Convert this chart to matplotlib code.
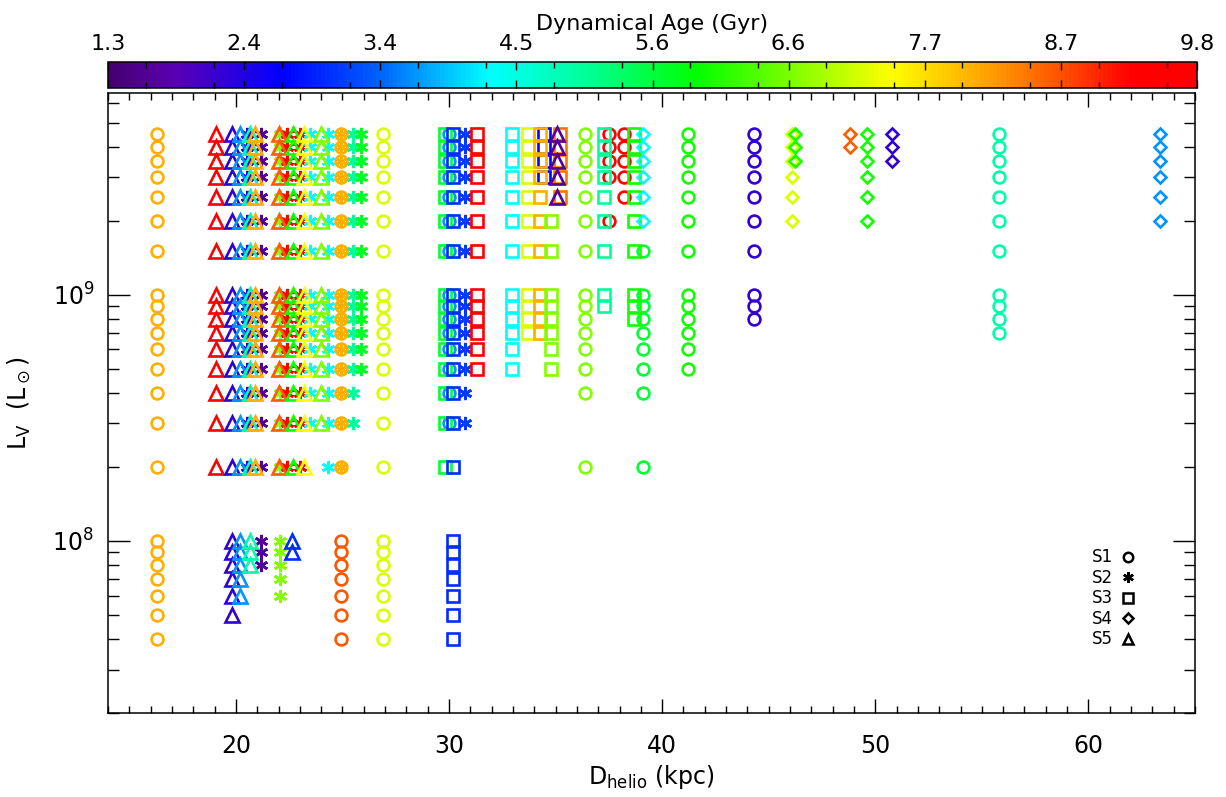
import numpy as np
import matplotlib
matplotlib.use('Agg')
import matplotlib.pyplot as plt
from matplotlib.colors import LinearSegmentedColormap, Normalize
from matplotlib.cm import ScalarMappable
from matplotlib.lines import Line2D
from matplotlib.ticker import MultipleLocator, LogLocator, NullFormatter

# luminosity rows (L_sun)
hi = [4.5e9, 4.0e9, 3.5e9, 3.0e9, 2.5e9, 2.0e9, 1.5e9]
mid = [1.0e9, 9e8, 8e8, 7e8, 6e8, 5e8, 4e8, 3e8, 2e8]
lo = [1e8, 9e7, 8e7, 7e7, 6e7, 5e7, 4e7]

# S1 - circles
s1_dist = [16.3, 24.95, 24.95, 26.9, 30.0, 36.4, 37.5, 38.2, 39.1, 41.2, 44.3, 55.8]
s1_age = [8.05, 8.05, 8.7, 7.2, 3.7, 6.66, 9.5, 9.5, 5.6, 6.0, 2.2, 4.9]
s1_lum = [hi + mid + lo, hi + mid, lo, hi + mid + lo, hi + mid[:8],
          hi + mid[:7] + [2e8], [4.5e9, 4e9, 3.5e9, 3e9, 2e9], hi[:5],
          [1.5e9] + mid[:7] + [2e8], hi + mid[:6], hi + mid[:3], hi + mid[:4]]

# S2 - asterisks
s2_dist = [20.5, 21.17, 22.07, 22.4, 23.0, 23.5, 24.3, 24.95, 25.5, 25.86, 30.76]
s2_age = [2.3, 1.6, 6.66, 9.5, 9.3, 4.3, 4.3, 8.05, 5.0, 5.7, 3.1]
s2_lum = [hi + mid, hi + mid + lo[:3], hi + mid + lo[:5], hi + mid, hi + mid,
          hi + mid[:8], hi + mid, hi + mid, hi + mid[:8], hi + mid[:6], hi + mid[:8]]

# S3 - squares
s3_dist = [29.8, 30.2, 31.3, 32.95, 33.7, 34.45, 34.25, 34.8, 35.2, 37.25, 38.7]
s3_age = [5.6, 3.0, 9.5, 4.3, 7.2, 2.6, 8.05, 6.66, 8.5, 5.0, 6.0]
s3_lum = [hi + mid, hi + mid + lo, hi + mid[:6], hi + mid[:6], hi + mid[:4], hi[:4],
          hi + mid[:4], [2e9, 1.5e9] + mid[:6], hi[:5], hi + mid[:2], hi + mid[:3]]

# S4 - diamonds
s4_dist = [39.1, 46.1, 46.25, 48.8, 49.6, 50.8, 63.35]
s4_age = [4.3, 7.2, 6.0, 8.65, 6.0, 2.2, 3.7]
s4_lum = [hi[:6], hi[:6], hi[:3], hi[:2], hi[:6], hi[:3], hi[:6]]

# S5 - triangles
s5_dist = [19.05, 19.8, 20.2, 20.67, 20.9, 22.0, 22.7, 22.65, 23.2, 24.0, 35.05]
s5_age = [9.5, 2.2, 3.7, 4.9, 8.05, 8.65, 6.0, 3.0, 7.4, 6.66, 1.6]
s5_lum = [hi + mid, hi + mid + lo[:6], hi + mid + lo[:5], hi + mid + lo[:3], hi + mid,
          hi + mid, hi + mid, lo[:2], hi + mid, hi + mid[:8], hi[:5]]

cbar_ticks = np.linspace(1.3, 9.8, 9)
cbar_labels = ['1.3', '2.4', '3.4', '4.5', '5.6', '6.6', '7.7', '8.7', '9.8']

# IDL-like rainbow
cmap = LinearSegmentedColormap.from_list('idl_rainbow', [
    (0.0, '#46006e'), (0.06, '#5a00b4'), (0.16, '#0000ff'), (0.25, '#0064ff'),
    (0.35, '#00ffff'), (0.44, '#00ff96'), (0.54, '#00ff00'), (0.63, '#80ff00'),
    (0.72, '#ffff00'), (0.81, '#ffa000'), (0.89, '#ff4000'), (0.94, '#ff0000'),
    (1.0, '#ff0000')])
norm = Normalize(1.3, 9.8)

plt.rcParams['font.family'] = 'DejaVu Sans'
plt.rcParams['mathtext.fontset'] = 'dejavusans'

fig = plt.figure(figsize=(12.26, 7.97), dpi=100)
ax = fig.add_axes([108 / 1226, 1 - 713 / 797, 1087 / 1226, 620 / 797])
cax = fig.add_axes([108 / 1226, 1 - 88 / 797, 1089 / 1226, 26 / 797])

groups = [
    (s1_dist, s1_age, s1_lum, 'o', 8.5),
    (s2_dist, s2_age, s2_lum, (6, 2, 0), 9.5),
    (s3_dist, s3_age, s3_lum, 's', 8.5),
    (s4_dist, s4_age, s4_lum, 'D', 6.3),
    (s5_dist, s5_age, s5_lum, '^', 9.5),
]
for dist, age, lum, mk, ms in groups:
    for d, a, L in zip(dist, age, lum):
        ax.plot([d] * len(L), L, ls='none', marker=mk, ms=ms, mfc='none',
                mec=cmap(norm(a)), mew=1.9)

ax.set_yscale('log')
ax.set_xlim(14, 65)
ax.set_ylim(2e7, 6.6e9)
ax.xaxis.set_major_locator(MultipleLocator(10))
ax.xaxis.set_minor_locator(MultipleLocator(1))
ax.yaxis.set_major_locator(LogLocator(10))
ax.yaxis.set_minor_locator(LogLocator(10, subs=np.arange(2, 10)))
ax.yaxis.set_minor_formatter(NullFormatter())
ax.tick_params(which='both', direction='in', top=True, right=True, labelsize=17, width=1)
ax.tick_params(axis='x', which='major', length=10, pad=15)
ax.tick_params(axis='x', which='minor', length=5)
ax.tick_params(axis='y', which='major', length=16, pad=10)
ax.tick_params(axis='y', which='minor', length=8)
for sp in ax.spines.values():
    sp.set_linewidth(1.1)
ax.set_xlabel(r'D$_{\rm helio}$ (kpc)', fontsize=17, labelpad=4)
ax.set_ylabel(r'L$_{\rm V}$  (L$_\odot$)', fontsize=17, labelpad=14)

handles = [Line2D([], [], ls='none', marker=m, ms=s * 0.8, mfc='none', mec='black', mew=1.8)
           for m, s in [('o', 8.5), ((6, 2, 0), 9.5), ('s', 8.5), ('D', 6.3), ('^', 9.5)]]
ax.legend(handles, ['S1', 'S2', 'S3', 'S4', 'S5'], loc='lower right',
          bbox_to_anchor=(0.958, 0.08), markerfirst=False, frameon=False,
          fontsize=12, handlelength=0.8, handletextpad=0.5, labelspacing=0.15)

cb = fig.colorbar(ScalarMappable(norm=norm, cmap=cmap), cax=cax,
                  orientation='horizontal', ticks=cbar_ticks)
cb.ax.xaxis.set_ticks_position('top')
cb.ax.xaxis.set_label_position('top')
cb.ax.set_xticklabels(cbar_labels)
cb.ax.xaxis.set_minor_locator(MultipleLocator((9.8 - 1.3) / 16))
cb.ax.tick_params(which='both', direction='in', top=True, bottom=True, labelsize=16, width=1)
cb.ax.tick_params(which='major', length=6, pad=6)
cb.ax.tick_params(which='minor', length=4)
cb.set_label('Dynamical Age (Gyr)', fontsize=16, labelpad=3)
cb.outline.set_linewidth(1.1)

fig.savefig('out.png', dpi=100)
